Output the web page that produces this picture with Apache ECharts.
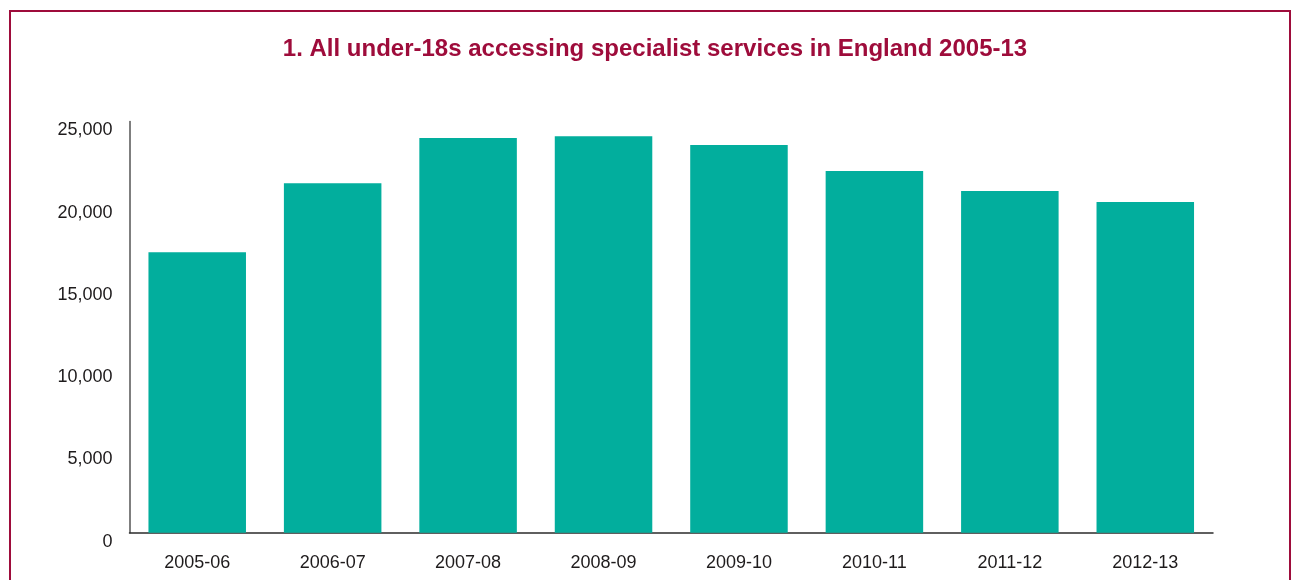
<!DOCTYPE html>
<html>
<head>
<meta charset="utf-8">
<script src="https://cdn.jsdelivr.net/npm/echarts@6/dist/echarts.min.js"></script>
<style>
  html, body { margin: 0; padding: 0; background: #fff; }
  #chart { width: 1292px; height: 580px; }
</style>
</head>
<body>
<div id="chart"></div>
<script>
const titleText = '1. All under-18s accessing specialist services in England 2005-13';
const categories = ['2005-06', '2006-07', '2007-08', '2008-09', '2009-10', '2010-11', '2011-12', '2012-13'];
const values = [17050, 21250, 24000, 24100, 23570, 21990, 20780, 20100];
const yTicks = [0, 5000, 10000, 15000, 20000, 25000];

const chart = echarts.init(document.getElementById('chart'), null, { renderer: 'canvas' });
const fontFamily = '"Liberation Sans", Arial, Helvetica, sans-serif';
const border = '#9e0c3b';

chart.setOption({
  animation: false,
  backgroundColor: '#fff',
  title: {
    text: titleText,
    left: 655,
    top: 32,
    textAlign: 'center',
    textStyle: { color: border, fontFamily: fontFamily, fontWeight: 'bold', fontSize: 24 }
  },
  graphic: [
    { type: 'line', shape: { x1: 10, y1: 11, x2: 1291, y2: 11 }, style: { stroke: border, lineWidth: 2 } },
    { type: 'line', shape: { x1: 10, y1: 10, x2: 10, y2: 580 }, style: { stroke: border, lineWidth: 2 } },
    { type: 'line', shape: { x1: 1290, y1: 10, x2: 1290, y2: 580 }, style: { stroke: border, lineWidth: 2 } }
  ],
  grid: { left: 129.5, right: 79, top: 121.5, bottom: 47.3, containLabel: false },
  xAxis: {
    type: 'category',
    data: categories,
    axisLine: { show: true, lineStyle: { color: '#2b2b2b', width: 1.5 } },
    axisTick: { show: false },
    axisLabel: { color: '#1e1b1c', fontFamily: fontFamily, fontSize: 18, margin: 21, verticalAlign: 'top' }
  },
  yAxis: {
    type: 'value',
    min: yTicks[0],
    max: yTicks[yTicks.length - 1],
    interval: yTicks[1] - yTicks[0],
    axisLine: { show: true, lineStyle: { color: '#555', width: 1.5 } },
    axisTick: { show: false },
    splitLine: { show: false },
    axisLabel: {
      color: '#1e1b1c', fontFamily: fontFamily, fontSize: 18, margin: 17,
      verticalAlign: 'top',
      formatter: v => v.toLocaleString('en-GB')
    }
  },
  series: [{
    type: 'bar',
    data: values,
    barCategoryGap: '28%',
    itemStyle: { color: '#02ae9d' }
  }]
});
chart.setOption({ title: { left: 650 } });
</script>
</body>
</html>
